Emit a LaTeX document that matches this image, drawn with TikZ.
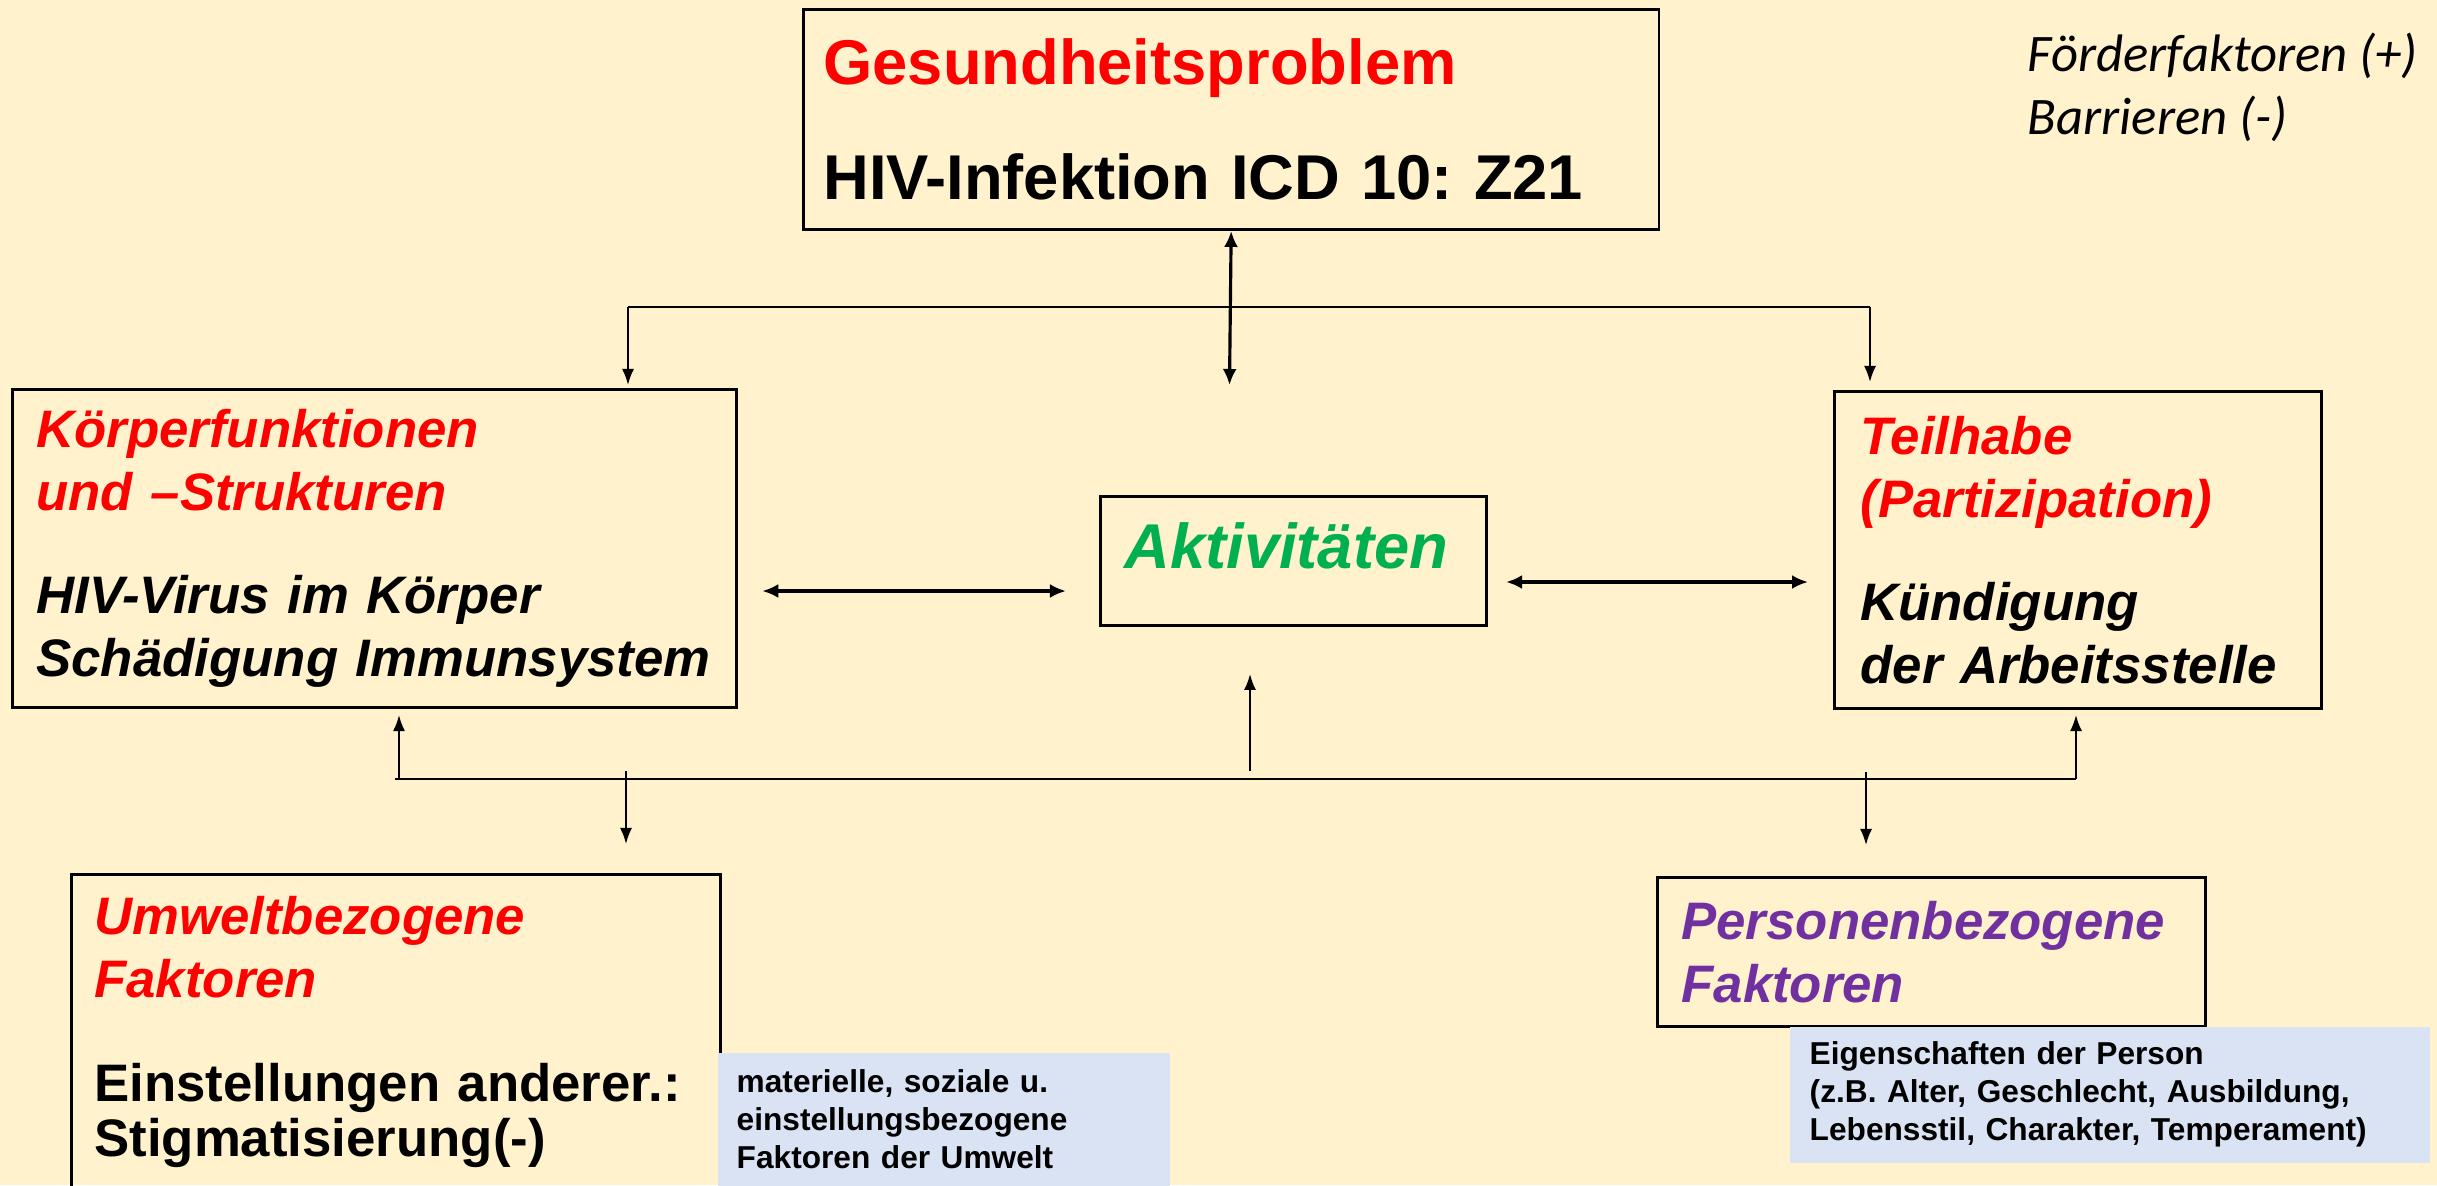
\documentclass[tikz,border=0pt]{standalone}
\usepackage{fontspec}
\setmainfont{Liberation Sans}
\newfontfamily\legendfont{Carlito}
\usetikzlibrary{positioning,arrows.meta}
\definecolor{paper}{HTML}{FFF2CC}
\definecolor{infobg}{HTML}{DAE3F3}
\definecolor{icfred}{HTML}{FF0000}
\definecolor{icfgreen}{HTML}{00B050}
\definecolor{icfpurple}{HTML}{7030A0}
\frenchspacing

\begin{document}
\begin{tikzpicture}[x=0.01cm, y=-0.01cm,
  icfbox/.style={rectangle, draw=black, line width=0.8pt, anchor=north west, align=left, inner ysep=0pt},
  infobox/.style={rectangle, fill=infobg, anchor=north west, align=left, inner ysep=0pt, font=\fontsize{9}{10.8}\selectfont\bfseries},
  bigfont/.style={font=\fontsize{18}{21.6}\selectfont\bfseries},
  midfont/.style={font=\fontsize{15}{18}\selectfont\bfseries},
  legend/.style={anchor=base west, inner sep=0pt, font=\legendfont\itshape\fontsize{15}{18}\selectfont},
  conn/.style={line width=0.55pt, >={Latex[length=0.16cm,width=0.12cm]}},
  biconn/.style={line width=0.9pt, >={Latex[length=0.16cm,width=0.14cm]}}]
	\useasboundingbox (0,0) rectangle (2437,1185);
	\fill[paper] (0,0) rectangle (2437,1185);
	% boxes
	\node[icfbox, bigfont, inner xsep=0.2cm, text width=8.15cm, minimum height=2.2cm] (problem) at (802,8) {\textcolor{icfred}{Gesundheitsproblem}\\[0.39cm] HIV-Infektion ICD 10: Z21};
	\node[icfbox, midfont, inner xsep=0.24cm, text width=6.76cm, minimum height=3.18cm] (koerper) at (11,388) {\itshape\textcolor{icfred}{Körperfunktionen\\und –Strukturen}\\[0.39cm] HIV-Virus im Körper\\Schädigung Immunsystem};
	\node[icfbox, bigfont, text=icfgreen, inner xsep=0.24cm, text width=3.38cm, text height=0.72cm, text depth=0.57cm] (aktiv) at (1099,495) {\itshape Aktivitäten};
	\node[icfbox, midfont, inner xsep=0.26cm, text width=4.35cm, minimum height=3.17cm] (teilhabe) at (1833,390) {\itshape\textcolor{icfred}{Teilhabe\\(Partizipation)}\\[0.39cm] Kündigung\\der Arbeitsstelle};
	\node[icfbox, midfont, inner xsep=0.23cm, text width=6.03cm, minimum height=3.15cm] (umwelt) at (70,873) {\textcolor{icfred}{\itshape Umweltbezogene\\Faktoren}\\[0.4cm] Einstellungen anderer.:\\[-0.08cm] Stigmatisierung(-)};
	\node[icfbox, midfont, text=icfpurple, inner xsep=0.24cm, text width=5.0cm, minimum height=1.49cm] (person) at (1656,876) {\itshape Personenbezogene\\Faktoren};
	\node[infobox, inner xsep=0.19cm, text width=4.14cm, minimum height=1.33cm] (umweltinfo) at (717,1052) {materielle, soziale u.\\einstellungsbezogene\\Faktoren der Umwelt};
	\node[infobox, inner xsep=0.2cm, text width=6.0cm, minimum height=1.36cm] (personinfo) at (1789,1026) {Eigenschaften der Person\\(z.B. Alter, Geschlecht, Ausbildung,\\Lebensstil, Charakter, Temperament)};
	\node[legend] (foerder) at (2027,72) {Förderfaktoren (+)};
	\node[legend] (barrieren) at (2027,135) {Barrieren (-)};
	% top connections
	\coordinate (busNW) at (628,307);
	\coordinate (busNE) at (1870,307);
	\coordinate (midtop) at (1229.5,385);
	\draw[conn] (busNW) -- (busNE);
	\draw[conn,->,shorten >=0.03cm] (busNW) -- (busNW |- koerper.north);
	\draw[conn,->,shorten >=0.08cm] (busNE) -- (busNE |- teilhabe.north);
	\draw[biconn,<->] (problem.south) -- (midtop);
	\draw[biconn,<->,shorten <=0.24cm,shorten >=0.33cm] (koerper.east |- 0,591) -- (aktiv.west |- 0,591);
	\draw[biconn,<->,shorten <=0.18cm,shorten >=0.25cm] (aktiv.east |- 0,582) -- (teilhabe.west |- 0,582);
	% bottom connections
	\coordinate (busSW) at (395,779);
	\coordinate (busSE) at (2076,779);
	\coordinate (upL) at (399,779);
	\coordinate (upM) at (1250,771);
	\coordinate (downL) at (626,771);
	\coordinate (downR) at (1866,772);
	\draw[conn] (busSW) -- (busSE);
	\draw[conn,->,shorten >=0.06cm] (upL) -- (upL |- koerper.south);
	\draw[conn,->,shorten >=0.47cm] (upM) -- (upM |- aktiv.south);
	\draw[conn,->,shorten >=0.05cm] (busSE) -- (busSE |- teilhabe.south);
	\draw[conn,->,shorten >=0.29cm] (downL) -- (downL |- umwelt.north);
	\draw[conn,->,shorten >=0.31cm] (downR) -- (downR |- person.north);
\end{tikzpicture}
\end{document}
